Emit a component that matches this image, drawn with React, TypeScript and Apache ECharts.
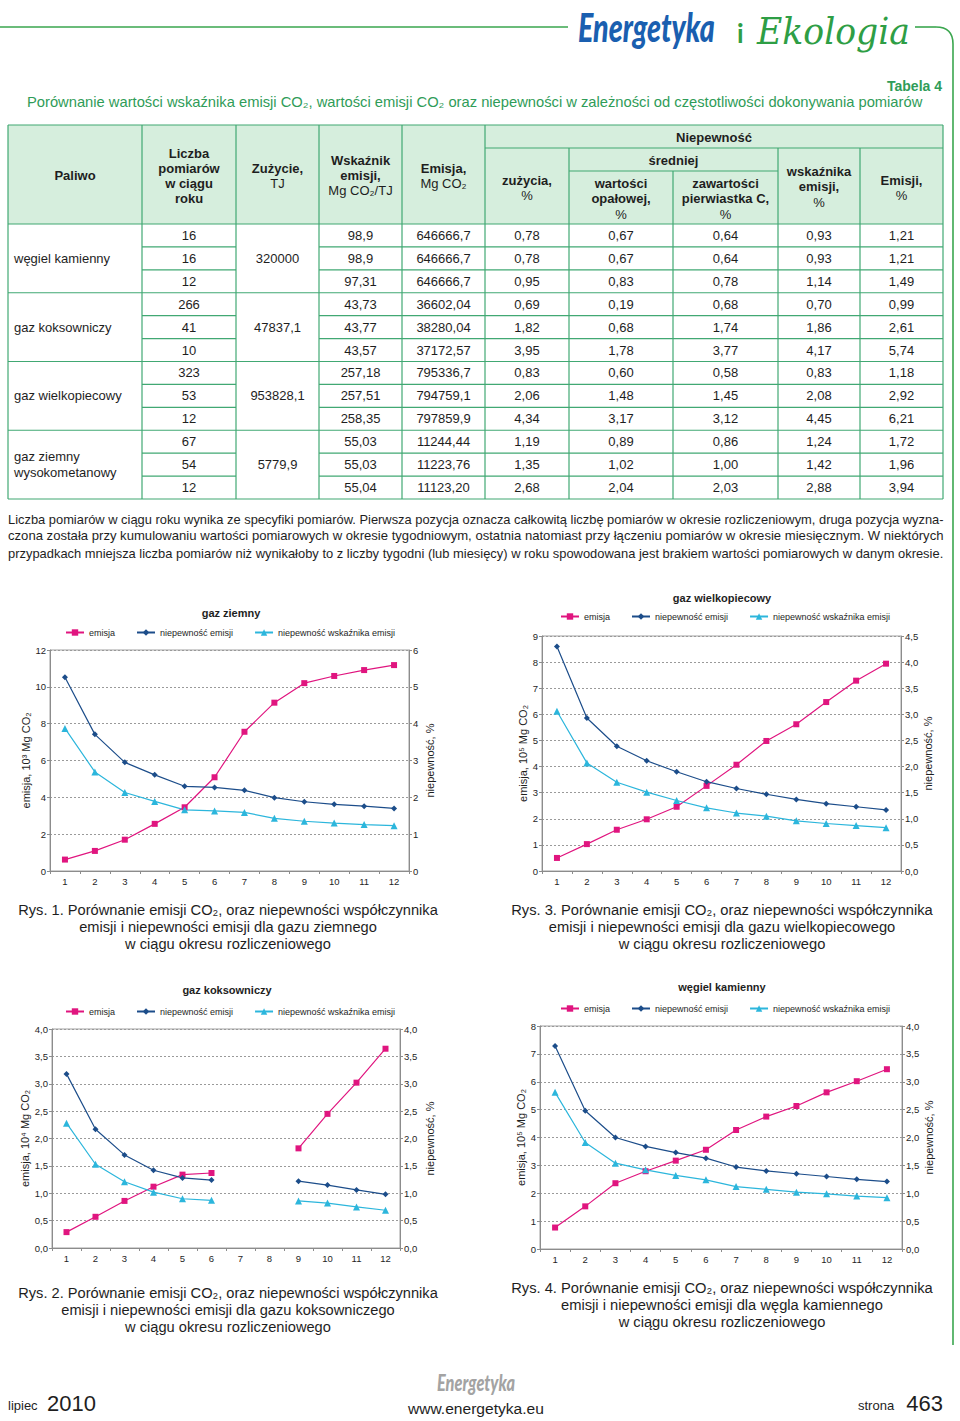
import React, { useEffect, useRef } from "react";
import * as echarts from "echarts";

// ---------- chart data ----------
const months = ["1", "2", "3", "4", "5", "6", "7", "8", "9", "10", "11", "12"];
const legendNames = ["emisja", "niepewność emisji", "niepewność wskaźnika emisji"];

// gaz ziemny (10^3 Mg CO2 / %)
const zEmisja = [0.62, 1.09, 1.7, 2.56, 3.46, 5.09, 7.56, 9.14, 10.2, 10.59, 10.91, 11.18];
const zNiepEm = [5.26, 3.71, 2.95, 2.61, 2.3, 2.27, 2.19, 1.99, 1.88, 1.81, 1.76, 1.7];
const zNiepWsk = [3.87, 2.69, 2.13, 1.89, 1.66, 1.63, 1.59, 1.43, 1.35, 1.3, 1.26, 1.23];
// gaz wielkopiecowy (10^5 Mg CO2 / %)
const wEmisja = [0.5, 1.03, 1.58, 1.98, 2.46, 3.26, 4.07, 4.98, 5.62, 6.47, 7.29, 7.94];
const wNiepEm = [4.3, 2.93, 2.39, 2.11, 1.9, 1.71, 1.58, 1.47, 1.37, 1.29, 1.23, 1.17];
const wNiepWsk = [3.06, 2.07, 1.7, 1.51, 1.35, 1.21, 1.11, 1.05, 0.96, 0.91, 0.87, 0.83];
// gaz koksowniczy (10^4 Mg CO2 / %)
const kEmisja = [0.29, 0.57, 0.86, 1.12, 1.34, 1.37, null, null, 1.82, 2.45, 3.02, 3.64];
const kNiepEm = [3.18, 2.17, 1.7, 1.42, 1.28, 1.24, null, null, 1.22, 1.15, 1.06, 0.98];
const kNiepWsk = [2.28, 1.53, 1.21, 1.02, 0.9, 0.87, null, null, 0.86, 0.82, 0.75, 0.69];
// węgiel kamienny (10^5 Mg CO2 / %)
const hEmisja = [0.77, 1.53, 2.36, 2.79, 3.17, 3.56, 4.27, 4.75, 5.13, 5.62, 6.02, 6.45];
const hNiepEm = [3.64, 2.48, 2.0, 1.84, 1.73, 1.63, 1.47, 1.4, 1.35, 1.3, 1.25, 1.21];
const hNiepWsk = [2.81, 1.91, 1.54, 1.42, 1.32, 1.24, 1.12, 1.07, 1.02, 0.99, 0.95, 0.92];

// ---------- table data ----------
const fuels = ["węgiel kamienny", "gaz koksowniczy", "gaz wielkopiecowy", "gaz ziemny\nwysokometanowy"];
const zuzycie = ["320000", "47837,1", "953828,1", "5779,9"];
const liczba = ["16", "16", "12", "266", "41", "10", "323", "53", "12", "67", "54", "12"];
const wskaznik = ["98,9", "98,9", "97,31", "43,73", "43,77", "43,57", "257,18", "257,51", "258,35", "55,03", "55,03", "55,04"];
const emisjaT = ["646666,7", "646666,7", "646666,7", "36602,04", "38280,04", "37172,57", "795336,7", "794759,1", "797859,9", "11244,44", "11223,76", "11123,20"];
const nZuz = ["0,78", "0,78", "0,95", "0,69", "1,82", "3,95", "0,83", "2,06", "4,34", "1,19", "1,35", "2,68"];
const nOpal = ["0,67", "0,67", "0,83", "0,19", "0,68", "1,78", "0,60", "1,48", "3,17", "0,89", "1,02", "2,04"];
const nC = ["0,64", "0,64", "0,78", "0,68", "1,74", "3,77", "0,58", "1,45", "3,12", "0,86", "1,00", "2,03"];
const nWsk = ["0,93", "0,93", "1,14", "0,70", "1,86", "4,17", "0,83", "2,08", "4,45", "1,24", "1,42", "2,88"];
const nEm = ["1,21", "1,21", "1,49", "0,99", "2,61", "5,74", "1,18", "2,92", "6,21", "1,72", "1,96", "3,94"];

// ---------- texts ----------
const paragraph = [
  "Liczba pomiarów w ciągu roku wynika ze specyfiki pomiarów. Pierwsza pozycja oznacza całkowitą liczbę pomiarów w okresie rozliczeniowym, druga pozycja wyzna-",
  "czona została przy kumulowaniu wartości pomiarowych w okresie tygodniowym, ostatnia natomiast przy łączeniu pomiarów w okresie miesięcznym. W niektórych",
  "przypadkach mniejsza liczba pomiarów niż wynikałoby to z liczby tygodni (lub miesięcy) w roku spowodowana jest brakiem wartości pomiarowych w danym okresie.",
];
const capRys1 = ["Rys. 1. Porównanie emisji CO₂, oraz niepewności współczynnika", "emisji i niepewności emisji dla gazu ziemnego", "w ciągu okresu rozliczeniowego"];
const capRys3 = ["Rys. 3. Porównanie emisji CO₂, oraz niepewności współczynnika", "emisji i niepewności emisji dla gazu wielkopiecowego", "w ciągu okresu rozliczeniowego"];
const capRys2 = ["Rys. 2. Porównanie emisji CO₂, oraz niepewności współczynnika", "emisji i niepewności emisji dla gazu koksowniczego", "w ciągu okresu rozliczeniowego"];
const capRys4 = ["Rys. 4. Porównanie emisji CO₂, oraz niepewności współczynnika", "emisji i niepewności emisji dla węgla kamiennego", "w ciągu okresu rozliczeniowego"];

const FONT = '"Liberation Sans", Arial, Helvetica, sans-serif';
const GREEN = "#41a873";
const HEADFILL = "#d6eedd";
const TGREEN = "#2f9c58";
const PINK = "#e0157f";
const NAVY = "#1c4d8a";
const CYAN = "#2cb6dc";
const INK = "#1e1e1e";
const AXIS = "#8c8c8c";

const chartDefs = [
  { title: "gaz ziemny", tx: 231, ty: 613, lx: 65, ly: 634, grid: [50, 650, 359, 221], data: [zEmisja, zNiepEm, zNiepWsk], unit: "emisja, 10³ Mg CO₂", lmax: 12, lint: 2, ldec: 0, rmax: 6, rint: 1, rdec: 0, lgap: 16, rgap: 15 },
  { title: "gaz wielkopiecowy", tx: 722, ty: 598, lx: 560, ly: 618, grid: [542, 636, 359, 235], data: [wEmisja, wNiepEm, wNiepWsk], unit: "emisja, 10⁵ Mg CO₂", lmax: 9, lint: 1, ldec: 0, rmax: 4.5, rint: 0.5, rdec: 1, lgap: 13, rgap: 20 },
  { title: "gaz koksowniczy", tx: 227, ty: 990, lx: 65, ly: 1013, grid: [52, 1029, 348, 219], data: [kEmisja, kNiepEm, kNiepWsk], unit: "emisja, 10⁴ Mg CO₂", lmax: 4, lint: 0.5, ldec: 1, rmax: 4, rint: 0.5, rdec: 1, lgap: 18, rgap: 24 },
  { title: "węgiel kamienny", tx: 722, ty: 987, lx: 560, ly: 1010, grid: [540, 1026, 362, 223], data: [hEmisja, hNiepEm, hNiepWsk], unit: "emisja, 10⁵ Mg CO₂", lmax: 8, lint: 1, ldec: 0, rmax: 4, rint: 0.5, rdec: 1, lgap: 12, rgap: 19 },
];

function measure(t: string, size: number, weight = "normal", style = "normal", family = FONT) {
  const ctx = document.createElement("canvas").getContext("2d")!;
  ctx.font = `${style} ${weight} ${size}px ${family}`;
  return ctx.measureText(t).width;
}

function buildOption() {
  const g: any[] = [];
  const txt = (x: number, y: number, text: string, o: any = {}) => {
    g.push({
      type: "text",
      x,
      y,
      scaleX: o.scaleX ?? 1,
      silent: true,
      style: {
        text,
        fontSize: o.size ?? 13,
        fontFamily: o.family ?? FONT,
        fontWeight: o.weight ?? "normal",
        fontStyle: o.fstyle ?? "normal",
        fill: o.color ?? INK,
        textAlign: o.align ?? "left",
        textVerticalAlign: o.valign ?? "middle",
        lineHeight: o.lh,
      },
    });
  };
  const fit = (x: number, y: number, text: string, w: number, o: any = {}) => {
    const m = measure(text, o.size ?? 13, o.weight ?? "normal", o.fstyle ?? "normal", o.family ?? FONT);
    txt(x, y, text, { ...o, scaleX: w / m });
  };
  const ln = (x1: number, y1: number, x2: number, y2: number, color = GREEN, w = 1.2) =>
    g.push({ type: "line", silent: true, shape: { x1, y1, x2, y2 }, style: { stroke: color, lineWidth: w } });

  // ---- page header ----
  ln(0, 27, 568, 27, "#3aa64e", 1.6);
  ln(915, 27, 936, 27, "#3aa64e", 1.6);
  g.push({ type: "bezierCurve", silent: true, shape: { x1: 936, y1: 27, x2: 953, y2: 44, cpx1: 948, cpy1: 27, cpx2: 953, cpy2: 34 }, style: { stroke: "#3aa64e", lineWidth: 1.6, fill: null } });
  ln(953, 44, 953, 1345, "#3aa64e", 1.6);
  fit(578, 26, "Energetyka", 137, { size: 40, weight: "900", fstyle: "italic", family: "Lato, " + FONT, color: "#1a5fb0" });
  txt(737, 33, "i", { size: 26, color: "#2e9e45", family: "Lato, " + FONT, weight: "bold" });
  fit(757, 31, "Ekologia", 153, { size: 38, fstyle: "italic", family: '"DejaVu Serif", serif', color: "#2e9e45" });

  txt(942, 86, "Tabela 4", { size: 14, weight: "bold", color: TGREEN, align: "right" });
  fit(27, 102, "Porównanie wartości wskaźnika emisji CO₂, wartości emisji CO₂ oraz niepewności w zależności od częstotliwości dokonywania pomiarów", 896, { size: 14, color: TGREEN });

  // ---- table ----
  const colX = [8, 142, 236, 319, 402, 485, 569, 673, 778, 860, 943];
  const hTop = 125, hBot = 224, bBot = 499;
  const rowH = (bBot - hBot) / 12;
  const cx = (i: number) => (colX[i] + colX[i + 1]) / 2;
  g.push({ type: "rect", silent: true, shape: { x: colX[0], y: hTop, width: colX[10] - colX[0], height: hBot - hTop }, style: { fill: HEADFILL, stroke: null } });
  // header lines
  ln(colX[0], hTop, colX[10], hTop);
  ln(colX[0], hBot, colX[10], hBot);
  [0, 1, 2, 3, 4, 5, 10].forEach((i) => ln(colX[i], hTop, colX[i], hBot));
  ln(colX[5], 148, colX[10], 148);
  ln(colX[6], 171, colX[8], 171);
  [6, 8, 9].forEach((i) => ln(colX[i], 148, colX[i], hBot));
  ln(colX[7], 171, colX[7], hBot);
  // body lines
  colX.forEach((x) => ln(x, hBot, x, bBot));
  for (let k = 1; k <= 12; k++) {
    const y = hBot + rowH * k;
    if (k % 3 === 0) ln(colX[0], y, colX[10], y);
    else {
      ln(colX[1], y, colX[2], y);
      ln(colX[3], y, colX[10], y);
    }
  }
  // header texts
  const hb = { weight: "bold", align: "center" };
  const hn = { align: "center" };
  txt(cx(0), 175, "Paliwo", hb);
  ["Liczba", "pomiarów", "w ciągu", "roku"].forEach((t, i) => txt(cx(1), 153 + i * 15.2, t, hb));
  txt(cx(2), 168, "Zużycie,", hb);
  txt(cx(2), 183, "TJ", hn);
  txt(cx(3), 160, "Wskaźnik", hb);
  txt(cx(3), 175, "emisji,", hb);
  txt(cx(3), 190.5, "Mg CO₂/TJ", hn);
  txt(cx(4), 168, "Emisja,", hb);
  txt(cx(4), 183.5, "Mg CO₂", hn);
  txt((colX[5] + colX[10]) / 2, 137, "Niepewność", hb);
  txt((colX[6] + colX[8]) / 2, 160, "średniej", hb);
  txt(cx(5), 180, "zużycia,", hb);
  txt(cx(5), 195, "%", hn);
  txt(cx(6), 183, "wartości", hb);
  txt(cx(6), 198.5, "opałowej,", hb);
  txt(cx(6), 214, "%", hn);
  txt(cx(7), 183, "zawartości", hb);
  txt(cx(7), 198.5, "pierwiastka C,", hb);
  txt(cx(7), 214, "%", hn);
  txt(cx(8), 171, "wskaźnika", hb);
  txt(cx(8), 186.5, "emisji,", hb);
  txt(cx(8), 202, "%", hn);
  txt(cx(9), 180, "Emisji,", hb);
  txt(cx(9), 195, "%", hn);
  // body texts
  fuels.forEach((f, gi) => {
    const yc = hBot + rowH * (gi * 3 + 1.5);
    txt(14, yc, f, { lh: 15.5 });
    txt(cx(2), yc, zuzycie[gi], hn);
  });
  const cols: [number, string[]][] = [[1, liczba], [3, wskaznik], [4, emisjaT], [5, nZuz], [6, nOpal], [7, nC], [8, nWsk], [9, nEm]];
  for (let r = 0; r < 12; r++) {
    const yc = hBot + rowH * (r + 0.5);
    cols.forEach(([c, arr]) => txt(cx(c), yc, arr[r], hn));
  }

  // ---- paragraph ----
  paragraph.forEach((line, i) => fit(8, 519 + i * 17, line, 936, { size: 13 }));

  // ---- chart titles ----
  chartDefs.forEach((c) => txt(c.tx, c.ty, c.title, { size: 11, weight: "bold", align: "center" }));

  // ---- captions ----
  const caps: [number, number, string[], number][] = [
    [228, 910, capRys1, 420],
    [722, 910, capRys3, 422],
    [228, 1293, capRys2, 420],
    [722, 1288, capRys4, 422],
  ];
  caps.forEach(([x, y, lines, w]) => {
    const s = w / measure(lines[0], 15);
    lines.forEach((l, i) => txt(x, y + i * 17, l, { size: 15, align: "center", scaleX: s }));
  });

  // ---- footer ----
  fit(437, 1382, "Energetyka", 78, { size: 22, weight: "900", fstyle: "italic", family: "Lato, " + FONT, color: "#a3a3a3" });
  txt(8, 1412, "lipiec", { size: 13, valign: "bottom" });
  txt(47, 1414, "2010", { size: 22, valign: "bottom" });
  fit(408, 1409, "www.energetyka.eu", 136, { size: 15 });
  txt(858, 1412, "strona", { size: 13, valign: "bottom" });
  txt(943, 1414, "463", { size: 22, valign: "bottom", align: "right" });

  // ---- charts ----
  const grids: any[] = [], xAxis: any[] = [], yAxis: any[] = [], series: any[] = [], legend: any[] = [];
  const fmt = (d: number) => (v: number) => v.toFixed(d).replace(".", ",");
  chartDefs.forEach((c, i) => {
    grids.push({ left: c.grid[0], top: c.grid[1], width: c.grid[2], height: c.grid[3], show: true, borderColor: "#a0a0a0", borderWidth: 1, backgroundColor: "transparent" });
    xAxis.push({
      type: "category", gridIndex: i, data: months, boundaryGap: true,
      axisLine: { lineStyle: { color: AXIS, width: 1 } },
      axisTick: { show: true, length: 3, lineStyle: { color: AXIS } },
      axisLabel: { fontSize: 9.5, color: INK, margin: 5 },
      splitLine: { show: false },
    });
    const yBase = {
      type: "value", gridIndex: i, min: 0,
      nameLocation: "middle", nameRotate: 90,
      nameTextStyle: { fontSize: 11, color: INK },
      axisLine: { show: true, lineStyle: { color: AXIS, width: 1 } },
      axisTick: { show: true, length: 3, lineStyle: { color: AXIS } },
    };
    yAxis.push({
      ...yBase, position: "left", max: c.lmax, interval: c.lint, name: c.unit, nameGap: c.lgap,
      axisLabel: { fontSize: 9.5, color: INK, margin: 4, formatter: fmt(c.ldec) },
      splitLine: { show: true, lineStyle: { type: [2, 2], color: "#9a9a9a", width: 1 } },
    });
    yAxis.push({
      ...yBase, position: "right", max: c.rmax, interval: c.rint, name: "niepewność, %", nameGap: c.rgap,
      axisLabel: { fontSize: 9.5, color: INK, margin: 4, formatter: fmt(c.rdec) },
      splitLine: { show: false },
    });
    const styles = [
      { color: PINK, symbol: "rect", size: 6 },
      { color: NAVY, symbol: "diamond", size: 6 },
      { color: CYAN, symbol: "triangle", size: 7 },
    ];
    c.data.forEach((d, k) => {
      series.push({
        type: "line", name: legendNames[k], xAxisIndex: i, yAxisIndex: k === 0 ? 2 * i : 2 * i + 1,
        data: d, connectNulls: false, symbol: styles[k].symbol, symbolSize: styles[k].size,
        itemStyle: { color: styles[k].color }, lineStyle: { color: styles[k].color, width: 1.2 },
        emphasis: { disabled: true },
      });
    });
    legend.push({
      left: c.lx, top: c.ly - 6, padding: 0, itemGap: 21, itemWidth: 18, itemHeight: 8,
      selectedMode: false, textStyle: { fontSize: 9, color: INK }, data: legendNames,
    });
  });

  return {
    animation: false,
    backgroundColor: "#ffffff",
    textStyle: { fontFamily: FONT },
    grid: grids,
    xAxis,
    yAxis,
    series,
    legend,
    graphic: { elements: g },
  };
}

export default function App() {
  const ref = useRef<HTMLDivElement>(null);
  useEffect(() => {
    document.body.style.margin = "0";
    document.body.style.background = "#fff";
    const chart = echarts.init(ref.current!, null, { renderer: "svg" });
    chart.setOption(buildOption() as any);
    return () => chart.dispose();
  }, []);
  return <div ref={ref} style={{ width: 960, height: 1421 }} />;
}
